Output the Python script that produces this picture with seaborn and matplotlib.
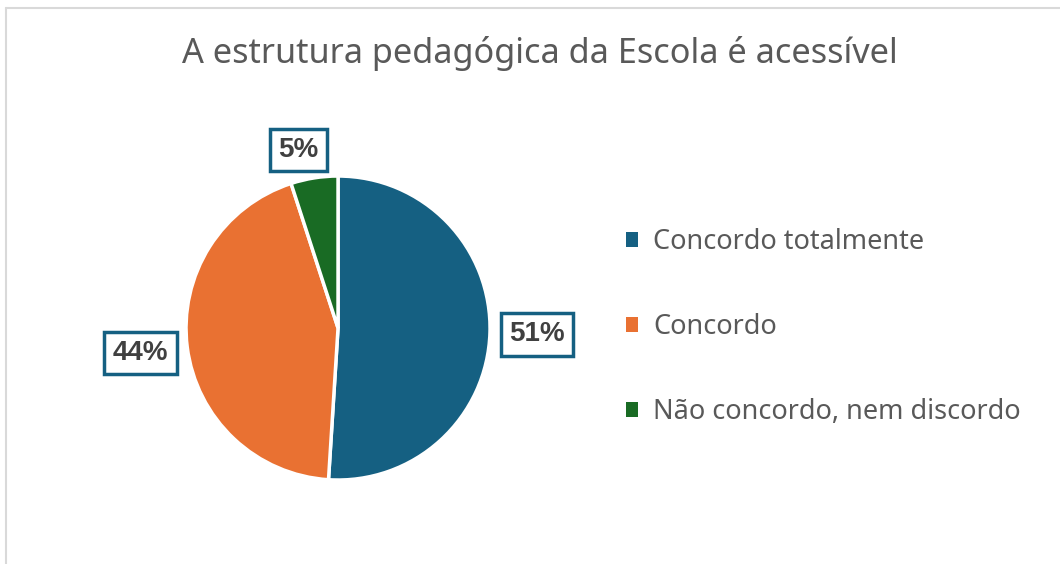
import numpy as np
import seaborn as sns
import matplotlib.pyplot as plt
from matplotlib.lines import Line2D
from matplotlib.patches import Patch

# data
categorias = ['Concordo totalmente', 'Concordo', 'Não concordo, nem discordo']
percentuais = [51, 44, 5]
cores = ['#156082', '#E97132', '#196B24']
titulo = 'A estrutura pedagógica da Escola é acessível'

sns.set_theme(style='white')
plt.rcParams['font.family'] = ['Noto Sans', 'DejaVu Sans']

fig = plt.figure(figsize=(10.6, 5.64), dpi=100)
ax = fig.add_axes([0.1755, 0.1489, 0.2868, 0.539])

wedges, _, autotexts = ax.pie(
    percentuais, colors=cores, startangle=90, counterclock=False,
    autopct='%.0f%%', pctdistance=1.31,
    wedgeprops=dict(edgecolor='white', linewidth=2.5),
    textprops=dict(fontsize=20, fontweight='bold', color='#404040',
                   family=['Liberation Sans']),
)
ax.set_xlim(-1, 1)
ax.set_ylim(-1, 1)

# the small slice label sits a little closer in and nudged left
raios = [1.31, 1.31, 1.2]
desvio = [0, 0, 3.5]
for w, t, r, d in zip(wedges, autotexts, raios, desvio):
    ang = np.deg2rad((w.theta1 + w.theta2) / 2 + d)
    t.set_position((r * np.cos(ang), r * np.sin(ang)))
    t.set_bbox(dict(boxstyle='square,pad=0.3', facecolor='white',
                    edgecolor='#156082', linewidth=2.5))

fig.text(0.5094, 0.905, titulo, ha='center', va='center',
         fontsize=24.7, color='#595959')

handles = [Patch(facecolor=c, edgecolor='none') for c in cores]
fig.legend(handles, categorias, loc='center left',
           bbox_to_anchor=(0.5906, 0.42), frameon=False,
           borderaxespad=0, borderpad=0,
           fontsize=19.5, labelcolor='#595959', handlelength=0.45,
           handleheight=0.45, handletextpad=0.55, labelspacing=2.1)

# chart area border (left and top edges visible)
fig.add_artist(Line2D([0.0057, 0.0057], [0, 0.985], color='#d9d9d9',
                      lw=1.5, transform=fig.transFigure))
fig.add_artist(Line2D([0.0057, 1], [0.985, 0.985], color='#d9d9d9',
                      lw=1.5, transform=fig.transFigure))

fig.savefig('out.png', dpi=100)
